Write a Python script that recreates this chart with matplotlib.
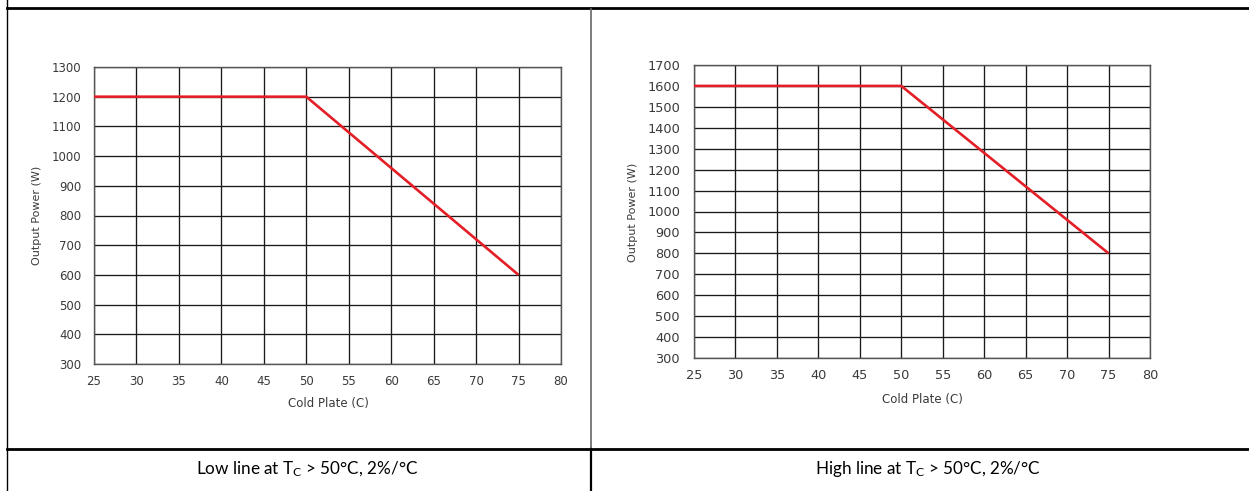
import matplotlib
matplotlib.use("Agg")
import matplotlib.pyplot as plt
from matplotlib.lines import Line2D
from matplotlib.transforms import Affine2D

# ---- data ----
x_ticks = [25, 30, 35, 40, 45, 50, 55, 60, 65, 70, 75, 80]
low_y_ticks = list(range(300, 1301, 100))
high_y_ticks = list(range(300, 1701, 100))
temp = [25, 50, 75]
low_power = [1200, 1200, 600]
high_power = [1600, 1600, 800]
x_label = "Cold Plate (C)"
y_label = "Output Power (W)"
low_caption = r"Low line at T$\mathregular{_C}$ > 50°C, 2%/°C"
high_caption = r"High line at T$\mathregular{_C}$ > 50°C, 2%/°C"

W, H = 1249, 491
fig = plt.figure(figsize=(W / 100, H / 100), dpi=100)
px = Affine2D().scale(1 / W, -1 / H).translate(0, 1) + fig.transFigure

def box(l, t, r, b):
    return [l / W, 1 - b / H, (r - l) / W, (b - t) / H]

RED = "#e41e26"
GRID = "#1a1a1a"
TXT = "#3a3a3a"

def draw(ax, yticks, power, fs, ypad):
    ax.set_xlim(x_ticks[0], x_ticks[-1])
    ax.set_ylim(yticks[0], yticks[-1])
    ax.set_xticks(x_ticks)
    ax.set_yticks(yticks)
    ax.grid(True, color=GRID, lw=0.95)
    ax.set_axisbelow(True)
    for s in ax.spines.values():
        s.set_color("#555555")
        s.set_linewidth(1.0)
    ax.tick_params(length=0, labelsize=fs, labelcolor=TXT)
    ax.tick_params(axis="x", pad=8)
    ax.tick_params(axis="y", pad=ypad)
    ax.plot(temp, power, color=RED, lw=1.9, solid_capstyle="butt", zorder=3)
    for lab in ax.get_xticklabels() + ax.get_yticklabels():
        lab.set_family("DejaVu Sans")

ax1 = fig.add_axes(box(94, 67, 561, 364))
draw(ax1, low_y_ticks, low_power, 8.5, 9)
ax2 = fig.add_axes(box(694, 65, 1150, 358))
draw(ax2, high_y_ticks, high_power, 9.3, 10)

# axis titles
fig.text(328, 404, x_label, transform=px, ha="center", va="center",
         fontsize=8.5, color=TXT, family="DejaVu Sans")
fig.text(922, 400, x_label, transform=px, ha="center", va="center",
         fontsize=8.5, color=TXT, family="DejaVu Sans")
fig.text(37, 215, y_label, transform=px, ha="center", va="center",
         rotation=90, fontsize=8, color=TXT, family="DejaVu Sans")
fig.text(633, 212, y_label, transform=px, ha="center", va="center",
         rotation=90, fontsize=8, color=TXT, family="DejaVu Sans")

# table lines
fig.add_artist(Line2D([7, 1249], [8.5, 8.5], transform=px, color="black", lw=2.0))
fig.add_artist(Line2D([7, 1249], [449, 449], transform=px, color="black", lw=2.0))
fig.add_artist(Line2D([7, 7], [0, 491], transform=px, color="black", lw=1.0))
fig.add_artist(Line2D([591, 591], [9, 449], transform=px, color="#666666", lw=1.2))
fig.add_artist(Line2D([591, 591], [449, 491], transform=px, color="black", lw=1.6))

# captions
fig.text(307, 469, low_caption, transform=px, ha="center", va="center",
         fontsize=12.3, color="black", family="Lato")
fig.text(928, 469, high_caption, transform=px, ha="center", va="center",
         fontsize=12.3, color="black", family="Lato")

fig.savefig("out.png", dpi=100, facecolor="white")
